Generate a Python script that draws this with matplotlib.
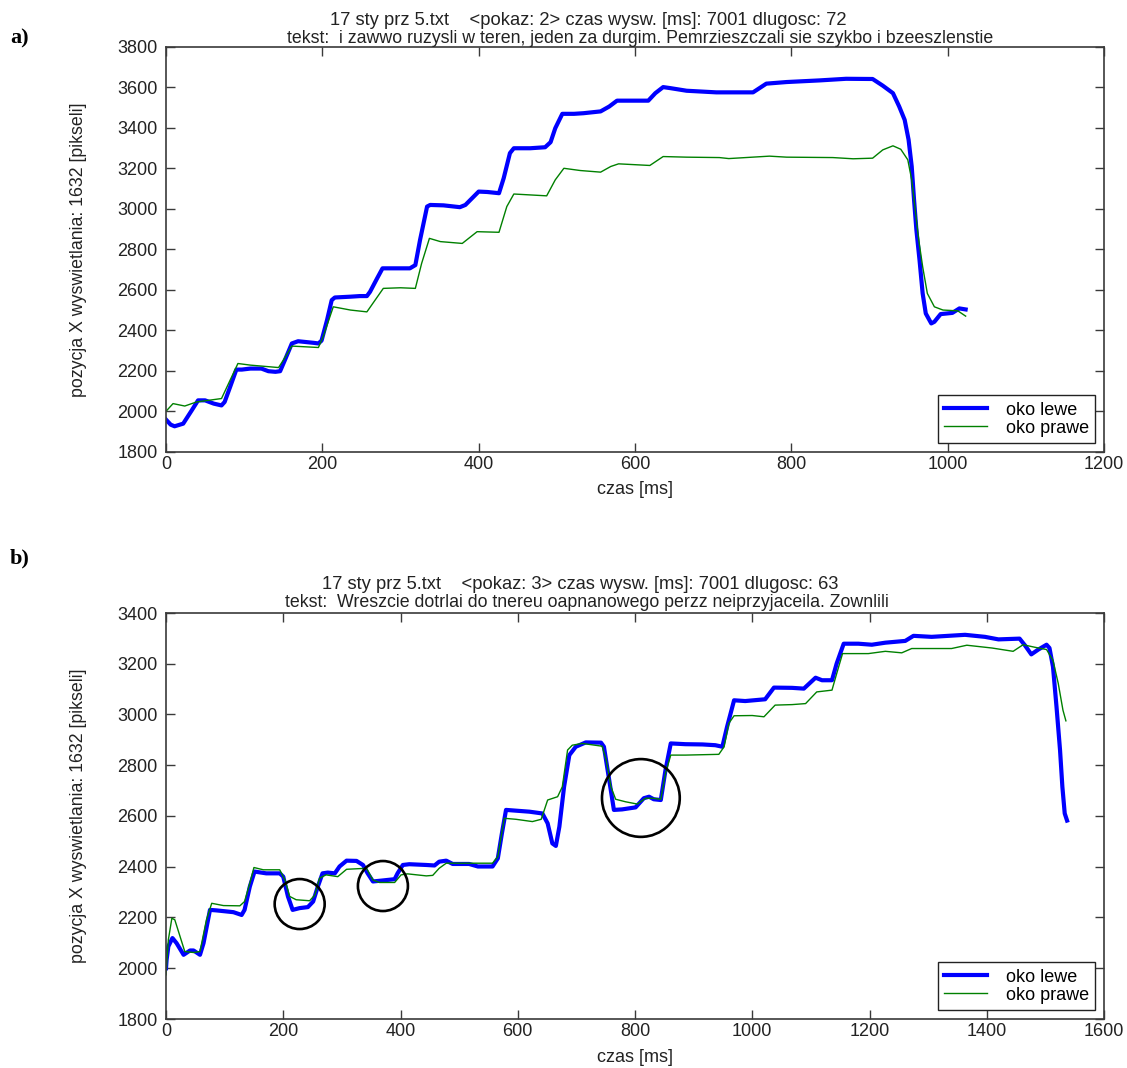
import matplotlib
matplotlib.use('Agg')
import matplotlib.pyplot as plt

# ---- dane: panel a) ------------------------------------------
a_lewe_t = [0, 6, 11, 22, 33, 41, 50, 61, 71, 75, 82, 90, 97, 108, 122, 131, 140, 146,
            152, 161, 169, 189, 195, 199, 206, 212, 216, 236, 248, 257, 261, 270, 277,
            295, 312, 319, 325, 334, 338, 355, 376, 383, 400, 411, 426, 432, 440, 445,
            466, 485, 492, 498, 507, 522, 534, 556, 567, 577, 617, 626, 636, 645, 666,
            704, 751, 768, 794, 836, 870, 904, 917, 930, 938, 945, 950, 954, 957, 960,
            964, 968, 972, 979, 983, 991, 1006, 1015, 1023]
a_lewe = [1960, 1935, 1927, 1940, 2006, 2055, 2055, 2039, 2030, 2047, 2121, 2207, 2207,
          2212, 2212, 2199, 2196, 2199, 2253, 2336, 2347, 2339, 2336, 2350, 2451, 2550,
          2563, 2567, 2570, 2570, 2591, 2657, 2707, 2707, 2707, 2723, 2847, 3012, 3020,
          3018, 3009, 3020, 3086, 3084, 3078, 3152, 3276, 3300, 3300, 3305, 3330, 3399,
          3470, 3470, 3473, 3482, 3506, 3535, 3535, 3572, 3602, 3597, 3584, 3576, 3576,
          3619, 3627, 3635, 3643, 3642, 3609, 3572, 3506, 3440, 3342, 3210, 3045, 2896,
          2748, 2583, 2484, 2435, 2443, 2481, 2487, 2509, 2504]

a_prawe_t = [0, 9, 24, 39, 71, 80, 92, 108, 144, 150, 161, 176, 195, 201, 214, 236, 257,
             278, 300, 319, 327, 337, 351, 379, 398, 426, 436, 445, 487, 498, 509, 530,
             556, 569, 579, 619, 636, 666, 708, 720, 772, 794, 853, 879, 904, 917, 930,
             940, 949, 954, 959, 963, 968, 974, 983, 994, 1013, 1023]
a_prawe = [2001, 2039, 2027, 2047, 2064, 2138, 2237, 2229, 2217, 2253, 2323, 2320, 2316,
           2369, 2517, 2501, 2492, 2608, 2611, 2608, 2731, 2855, 2839, 2830, 2888, 2885,
           3012, 3074, 3065, 3144, 3201, 3190, 3182, 3210, 3223, 3215, 3259, 3256, 3254,
           3249, 3261, 3256, 3254, 3248, 3251, 3292, 3312, 3295, 3243, 3144, 2979, 2847,
           2715, 2583, 2517, 2501, 2497, 2471]

# ---- dane: panel b) ------------------------------------------
b_lewe_t = [0, 1, 4, 11, 18, 30, 41, 47, 58, 64, 75, 86, 115, 129, 134, 143, 151, 171,
            194, 200, 208, 216, 228, 242, 251, 259, 267, 276, 288, 296, 308, 325, 336,
            344, 353, 370, 390, 395, 404, 415, 444, 458, 466, 478, 489, 517, 532, 557,
            566, 573, 580, 597, 620, 642, 651, 659, 665, 671, 679, 688, 699, 716, 742,
            747, 756, 764, 778, 801, 815, 824, 832, 844, 852, 861, 886, 915, 937, 949,
            957, 969, 988, 1022, 1037, 1068, 1088, 1108, 1119, 1136, 1144, 1156, 1181,
            1204, 1227, 1261, 1275, 1306, 1363, 1397, 1420, 1456, 1465, 1476, 1488,
            1502, 1507, 1513, 1519, 1525, 1529, 1533, 1537]
b_lewe = [2000, 2033, 2086, 2119, 2099, 2053, 2070, 2070, 2053, 2099, 2230, 2228, 2221,
          2210, 2230, 2322, 2381, 2374, 2374, 2361, 2283, 2230, 2237, 2241, 2263, 2322,
          2374, 2377, 2374, 2401, 2424, 2423, 2407, 2374, 2342, 2346, 2351, 2374, 2407,
          2410, 2407, 2405, 2420, 2424, 2411, 2411, 2401, 2401, 2433, 2532, 2624, 2621,
          2617, 2610, 2571, 2492, 2482, 2558, 2715, 2840, 2873, 2890, 2889, 2873, 2742,
          2624, 2626, 2634, 2670, 2676, 2666, 2663, 2781, 2886, 2883, 2882, 2879, 2873,
          2951, 3056, 3053, 3060, 3106, 3105, 3102, 3145, 3135, 3135, 3201, 3279, 3279,
          3275, 3283, 3290, 3310, 3306, 3314, 3306, 3296, 3299, 3273, 3237, 3256, 3275,
          3262, 3188, 3030, 2860, 2715, 2610, 2582]

b_prawe_t = [0, 4, 10, 15, 24, 32, 47, 58, 69, 78, 98, 126, 134, 143, 150, 166, 194, 203,
             211, 222, 245, 254, 262, 273, 293, 308, 342, 353, 364, 390, 401, 412, 444,
             455, 466, 478, 540, 557, 566, 577, 597, 625, 640, 651, 668, 676, 685, 693,
             710, 744, 751, 759, 767, 784, 804, 818, 830, 844, 852, 861, 886, 943, 952,
             960, 969, 1000, 1020, 1039, 1068, 1091, 1110, 1136, 1144, 1154, 1198, 1227,
             1255, 1272, 1340, 1366, 1409, 1445, 1462, 1482, 1502, 1513, 1522, 1530, 1535]
b_prawe = [1974, 2112, 2197, 2191, 2125, 2066, 2062, 2066, 2191, 2256, 2247, 2246, 2263,
           2335, 2397, 2388, 2388, 2348, 2283, 2270, 2266, 2289, 2355, 2368, 2361, 2390,
           2394, 2348, 2338, 2338, 2368, 2372, 2364, 2366, 2394, 2414, 2414, 2414, 2440,
           2591, 2587, 2578, 2587, 2663, 2676, 2715, 2860, 2879, 2886, 2875, 2820, 2715,
           2666, 2656, 2647, 2670, 2670, 2666, 2768, 2840, 2840, 2843, 2873, 2965, 2995,
           2996, 2991, 3037, 3039, 3043, 3089, 3096, 3161, 3240, 3240, 3249, 3243, 3260,
           3260, 3273, 3262, 3249, 3275, 3265, 3256, 3213, 3122, 3017, 2975]

# zaznaczone miejsca (okregi) na panelu b)
kolka_t = [228, 370, 810]
kolka_y = [2253, 2324, 2671]
kolka_d = [36, 36, 56]   # srednica w pt

tytuly = [
    ('17 sty prz 5.txt    <pokaz: 2> czas wysw. [ms]: 7001 dlugosc: 72',
     'tekst:  i zawwo ruzysli w teren, jeden za durgim. Pemrzieszczali sie szykbo i bzeeszlenstie'),
    ('17 sty prz 5.txt    <pokaz: 3> czas wysw. [ms]: 7001 dlugosc: 63',
     'tekst:  Wreszcie dotrlai do tnereu oapnanowego perzz neiprzyjaceila. Zownlili'),
]

plt.rcParams['font.family'] = ['Liberation Sans', 'DejaVu Sans']
plt.rcParams['font.size'] = 13

NIEB, ZIEL, OS, TXT = '#0000ff', '#008000', '#3a3a3a', '#222222'

fig = plt.figure(figsize=(11.27, 10.68), dpi=100)
W, H = 1127, 1068


def px_ax(l, t, r, b):
    return [l / W, 1 - b / H, (r - l) / W, (b - t) / H]


ax1 = fig.add_axes(px_ax(166, 47, 1104, 452))
ax2 = fig.add_axes(px_ax(166, 613, 1104, 1019))

panele = [
    (ax1, a_lewe_t, a_lewe, a_prawe_t, a_prawe, (0, 1200), (1800, 3800)),
    (ax2, b_lewe_t, b_lewe, b_prawe_t, b_prawe, (0, 1600), (1800, 3400)),
]

for ax, lt, lv, pt, pv, xl, yl in panele:
    ax.plot(lt, lv, color=NIEB, linewidth=3.0, label='oko lewe', solid_joinstyle='round')
    ax.plot(pt, pv, color=ZIEL, linewidth=1.0, label='oko prawe')
    ax.set_xlim(*xl)
    ax.set_ylim(*yl)
    ax.set_xticks(range(xl[0], xl[1] + 1, 200))
    ax.set_yticks(range(yl[0], yl[1] + 1, 200))
    ax.tick_params(direction='in', top=True, right=True, length=6.5, width=1,
                   color=OS, labelcolor=TXT, labelsize=13)
    ax.tick_params(axis='x', pad=3)
    ax.tick_params(axis='y', pad=6)
    for s in ax.spines.values():
        s.set_color(OS)
        s.set_linewidth(1.2)
    ax.set_xlabel('czas [ms]', fontsize=13, labelpad=6, color=TXT)
    ax.set_ylabel('pozycja X wyswietlania: 1632 [pikseli]', fontsize=12.8,
                  labelpad=22, color=TXT)
    leg = ax.legend(loc='lower right', fontsize=13, frameon=True, fancybox=False,
                    framealpha=1, edgecolor=TXT, borderaxespad=0.5,
                    handlelength=2.4, handletextpad=1.0, labelspacing=0.05,
                    borderpad=0.35)
    leg.get_frame().set_linewidth(1.0)

ax2.scatter(kolka_t, kolka_y, s=[d ** 2 for d in kolka_d], facecolors='none',
            edgecolors='black', linewidths=1.9, zorder=5)

srodki = [(588, 640), (580, 587)]
for (l1, l2), (x1, x2), y1, y2 in zip(tytuly, srodki, (25, 589), (43, 607)):
    fig.text(x1 / W, 1 - y1 / H, l1, ha='center', va='baseline', fontsize=13.2, color=TXT)
    fig.text(x2 / W, 1 - y2 / H, l2, ha='center', va='baseline', fontsize=12.8, color=TXT)

fig.text(10 / W, 1 - 43 / H, 'a)', fontsize=16, fontweight='bold',
         family='Liberation Serif', va='baseline')
fig.text(10 / W, 1 - 563 / H, 'b)', fontsize=16, fontweight='bold',
         family='Liberation Serif', va='baseline')

fig.savefig('out.png', dpi=100)
